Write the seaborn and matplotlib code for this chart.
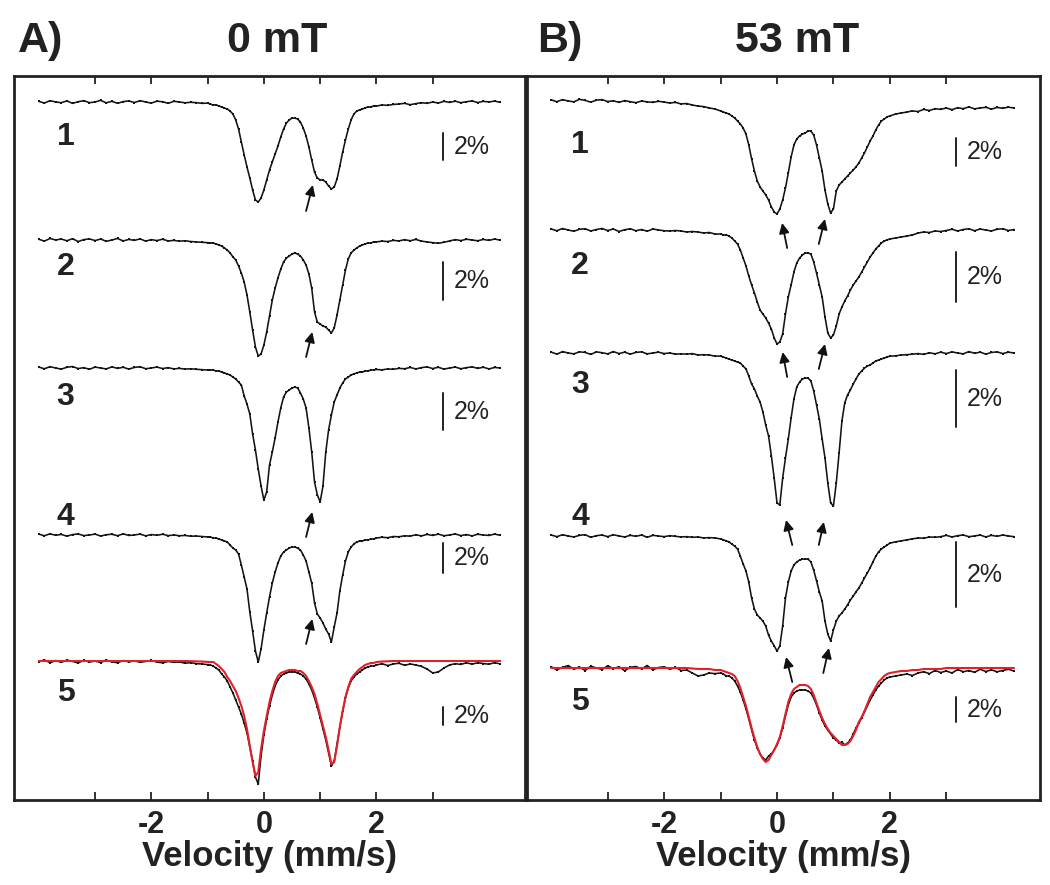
import numpy as np
import matplotlib
matplotlib.use('Agg')
import matplotlib.pyplot as plt
import seaborn as sns

# velocity channels (mm/s): 0.1 steps in the wings, 0.05 steps across the doublet
VELOCITY = np.concatenate([np.arange(-40, -9) / 10, np.arange(-19, 40) / 20, np.arange(20, 43) / 10])

# relative transmission change (%)
# ---------- A) 0 mT ----------
A1 = [0.05, -0.08, 0.1, 0.0, -0.05, 0.08, -0.1, 0.02, 0.1, -0.05,
      0.0, 0.12, -0.06, 0.05, -0.1, 0.03, 0.08, -0.04, 0.1, 0.0,
      -0.08, 0.06, 0.02, -0.1, 0.05, 0.0, -0.06, -0.02, -0.05, -0.1, -0.08,
      -0.15, -0.22, -0.2, -0.3, -0.37, -0.45, -0.52, -0.67, -0.89, -1.33,
      -2.0, -2.96, -3.93, -4.81, -5.63, -6.52, -7.26, -7.41, -7.11, -6.52,
      -5.78, -5.04, -4.44, -3.85, -3.26, -2.59, -2.0, -1.56, -1.33, -1.19,
      -1.19, -1.26, -1.48, -1.93, -2.52, -3.33, -4.3, -5.19, -5.63, -5.78,
      -5.78, -5.93, -6.22, -6.44, -6.3, -5.7, -4.74, -3.7, -2.81, -2.0,
      -1.33, -0.89, -0.67, -0.59, -0.52, -0.44, -0.37, -0.37, -0.3,
      -0.3, -0.22, -0.25, -0.18, -0.15, -0.1, -0.2, -0.12, -0.05, -0.1,
      0.0, -0.08, 0.05, -0.03, 0.06, -0.05, 0.02, 0.08, -0.04, 0.05, 0.0, 0.07, -0.03]
A2 = [0.04, -0.06, 0.08, 0.0, 0.05, -0.04, 0.07, -0.08, 0.02, 0.06,
      -0.03, 0.05, -0.07, 0.0, 0.08, -0.05, 0.03, -0.02, 0.06, -0.06,
      0.02, -0.03, 0.04, -0.05, -0.02, -0.06, -0.04, -0.08, -0.1, -0.12, -0.14,
      -0.16, -0.16, -0.21, -0.26, -0.32, -0.42, -0.53, -0.68, -0.89, -1.05,
      -1.37, -1.74, -2.21, -2.89, -3.79, -4.74, -5.63, -6.11, -6.0, -5.53,
      -4.84, -4.0, -3.16, -2.53, -2.0, -1.53, -1.16, -0.95, -0.84, -0.74,
      -0.68, -0.74, -0.84, -1.05, -1.32, -1.79, -2.53, -3.79, -4.32, -4.42,
      -4.53, -4.58, -4.74, -4.89, -4.63, -3.95, -3.16, -2.37, -1.58, -1.0,
      -0.68, -0.53, -0.42, -0.32, -0.26, -0.21, -0.16, -0.16, -0.1,
      -0.1, -0.06, -0.08, -0.02, -0.05, 0.02, -0.04, 0.03, -0.06, -0.1,
      -0.14, -0.17, -0.12, -0.05, 0.02, -0.03, 0.04, 0.0, -0.04, 0.03, -0.02, 0.05, -0.01]
A3 = [0.05, -0.04, 0.07, 0.0, -0.06, 0.04, 0.08, -0.03, 0.02, -0.07,
      0.05, 0.0, -0.05, 0.06, -0.02, 0.04, -0.06, 0.03, 0.07, -0.04,
      0.0, 0.05, -0.03, 0.02, -0.05, -0.02, -0.06, -0.04, -0.07, -0.09, -0.11,
      -0.11, -0.11, -0.16, -0.16, -0.22, -0.27, -0.32, -0.38, -0.49, -0.59,
      -0.76, -0.92, -1.51, -1.95, -2.49, -3.57, -4.43, -5.46, -6.38, -7.14,
      -6.7, -5.24, -4.54, -3.78, -2.92, -2.16, -1.57, -1.3, -1.19, -1.08,
      -1.03, -1.08, -1.35, -1.68, -2.16, -3.24, -4.54, -6.16, -6.86, -7.24,
      -6.38, -4.54, -3.35, -2.54, -1.84, -1.46, -1.08, -0.81, -0.59, -0.49,
      -0.38, -0.32, -0.27, -0.22, -0.22, -0.16, -0.16, -0.11, -0.11,
      -0.08, -0.1, -0.05, -0.07, -0.02, -0.04, 0.03, -0.05, 0.02, 0.06,
      -0.03, 0.04, -0.06, 0.0, 0.05, -0.04, 0.02, 0.06, -0.02, 0.04, -0.05, 0.03, 0.0]
A4 = [0.06, -0.05, 0.08, -0.02, 0.04, -0.08, 0.03, 0.07, -0.04, 0.0,
      0.06, -0.07, 0.02, 0.05, -0.05, 0.08, -0.03, 0.0, 0.06, -0.06,
      0.03, -0.02, 0.05, -0.04, 0.0, -0.05, -0.03, -0.08, -0.07, -0.1, -0.13,
      -0.13, -0.2, -0.2, -0.27, -0.33, -0.4, -0.47, -0.67, -0.87, -1.0,
      -1.27, -2.0, -2.8, -3.6, -5.13, -6.4, -7.73, -8.47, -7.6, -6.33,
      -5.2, -4.13, -3.2, -2.47, -1.87, -1.4, -1.13, -1.0, -0.87, -0.8,
      -0.8, -0.87, -1.0, -1.33, -1.73, -2.47, -3.2, -4.53, -5.27, -5.53,
      -5.87, -6.27, -6.6, -7.13, -6.13, -5.2, -3.73, -2.67, -1.73, -1.13,
      -0.8, -0.6, -0.47, -0.4, -0.4, -0.33, -0.33, -0.27, -0.27,
      -0.2, -0.15, -0.18, -0.1, -0.12, -0.05, -0.08, 0.02, -0.06, 0.04,
      -0.03, 0.06, -0.05, 0.0, 0.07, -0.04, 0.03, -0.06, 0.05, 0.0, -0.03, 0.06, -0.02]
A5 = [-0.1, 0.12, -0.2, 0.05, -0.15, 0.1, -0.05, -0.22, 0.08, -0.12,
      0.0, -0.18, 0.1, -0.08, -0.2, 0.05, -0.1, 0.02, -0.15, -0.05,
      0.06, -0.12, -0.2, -0.05, -0.15, -0.1, -0.25, -0.18, -0.3, -0.33, -0.4,
      -0.44, -0.56, -0.78, -1.0, -1.44, -1.78, -2.22, -2.89, -3.56, -4.33,
      -5.11, -5.89, -6.89, -8.0, -9.56, -11.11, -12.89, -13.67, -10.56, -8.22,
      -6.44, -5.0, -3.78, -2.78, -2.11, -1.67, -1.44, -1.33, -1.22, -1.22,
      -1.22, -1.33, -1.44, -1.67, -2.0, -2.56, -3.22, -4.11, -5.11, -6.33,
      -7.56, -8.78, -10.22, -11.67, -11.11, -9.22, -7.33, -5.56, -4.11, -3.0,
      -2.22, -1.78, -1.44, -1.22, -1.0, -0.78, -0.67, -0.56, -0.56,
      -0.44, -0.3, -0.5, -0.33, -0.25, -0.48, -0.33, -0.44, -0.6, -0.89,
      -1.33, -1.22, -0.78, -0.44, -0.3, -0.38, -0.2, -0.35, -0.2, -0.28, -0.36, -0.18, -0.33]
A5_FIT = [0.0, 0.0, 0.0, 0.0, 0.0, 0.0, 0.0, 0.0, 0.0, 0.0,
          0.0, 0.0, 0.0, 0.0, 0.0, 0.0, 0.0, 0.0, 0.0, 0.0,
          0.0, 0.0, 0.0, 0.0, 0.0, 0.0, 0.0, -0.02, -0.04, -0.06, -0.1,
          -0.11, -0.11, -0.33, -0.56, -0.89, -1.22, -1.78, -2.22, -2.78, -3.33,
          -4.11, -5.0, -6.11, -7.56, -9.44, -11.22, -12.78, -12.33, -9.78, -7.78,
          -6.11, -4.56, -3.33, -2.33, -1.67, -1.33, -1.22, -1.11, -1.0, -1.0,
          -1.0, -1.11, -1.11, -1.33, -1.67, -2.22, -2.89, -3.67, -4.78, -6.0,
          -7.22, -8.44, -9.89, -11.44, -11.22, -9.44, -7.33, -5.56, -4.0, -2.89,
          -2.0, -1.56, -1.22, -0.89, -0.67, -0.44, -0.33, -0.22, -0.22,
          -0.11, -0.06, -0.03, 0.0, 0.0, 0.0, 0.0, 0.0, 0.0, 0.0,
          0.0, 0.0, 0.0, 0.0, 0.0, 0.0, 0.0, 0.0, 0.0, 0.0, 0.0, 0.0, 0.0]

# ---------- B) 53 mT ----------
B1 = [0.08, -0.05, 0.1, 0.0, -0.06, 0.12, 0.04, -0.08, 0.06, 0.1,
      -0.04, 0.02, -0.1, 0.03, -0.05, -0.12, 0.0, -0.06, -0.1, -0.02,
      -0.08, -0.14, -0.1, -0.21, -0.18, -0.29, -0.36, -0.4, -0.5, -0.57, -0.71,
      -0.79, -0.86, -0.93, -1.07, -1.21, -1.43, -1.64, -1.93, -2.36, -3.14,
      -4.14, -5.0, -5.71, -6.14, -6.43, -6.71, -7.07, -7.57, -7.93, -8.07,
      -7.71, -7.07, -6.21, -5.14, -4.0, -3.14, -2.71, -2.5, -2.36, -2.29,
      -2.14, -2.14, -2.43, -3.14, -4.07, -5.0, -6.36, -7.36, -8.0, -7.71,
      -6.43, -6.0, -5.79, -5.57, -5.36, -5.14, -4.93, -4.71, -4.43, -4.07,
      -3.71, -3.29, -2.86, -2.5, -2.07, -1.71, -1.43, -1.29, -1.14,
      -1.07, -0.93, -0.86, -0.79, -0.71, -0.75, -0.6, -0.68, -0.55, -0.6,
      -0.5, -0.62, -0.48, -0.55, -0.42, -0.56, -0.5, -0.45, -0.58, -0.46, -0.52, -0.44, -0.5]
B2 = [0.04, -0.03, 0.06, 0.0, -0.05, 0.03, 0.05, -0.04, 0.02, 0.06,
      -0.02, 0.04, -0.06, 0.01, 0.05, -0.03, 0.02, -0.05, 0.04, 0.0,
      -0.03, -0.04, -0.02, -0.04, -0.08, -0.06, -0.08, -0.12, -0.1, -0.16, -0.16,
      -0.2, -0.2, -0.24, -0.32, -0.44, -0.56, -0.8, -1.12, -1.44, -1.84,
      -2.2, -2.52, -2.88, -3.2, -3.36, -3.52, -3.72, -3.96, -4.32, -4.56,
      -4.48, -4.16, -3.36, -2.68, -2.2, -1.68, -1.32, -1.12, -1.0, -0.92,
      -0.92, -0.96, -1.28, -1.72, -2.2, -2.68, -3.48, -4.12, -4.32, -4.2,
      -3.84, -3.36, -3.08, -2.84, -2.64, -2.4, -2.2, -2.04, -1.88, -1.68,
      -1.48, -1.28, -1.08, -0.92, -0.76, -0.64, -0.52, -0.44, -0.4,
      -0.36, -0.32, -0.28, -0.24, -0.2, -0.12, -0.08, -0.1, -0.04, -0.06,
      -0.02, 0.03, -0.04, 0.02, 0.05, -0.03, 0.04, 0.0, -0.04, 0.03, 0.05, -0.02, 0.02]
B3 = [0.03, -0.04, 0.05, 0.0, -0.03, 0.04, 0.02, -0.05, 0.04, 0.01,
      -0.03, 0.05, -0.02, 0.03, -0.04, 0.02, 0.04, -0.03, 0.0, 0.03,
      -0.02, 0.0, -0.04, -0.03, -0.04, -0.02, -0.07, -0.06, -0.07, -0.11, -0.11,
      -0.14, -0.18, -0.21, -0.25, -0.28, -0.32, -0.35, -0.46, -0.56, -0.81,
      -1.09, -1.26, -1.51, -1.72, -2.07, -2.53, -2.91, -3.61, -4.39, -5.26,
      -5.33, -4.39, -3.68, -3.02, -2.28, -1.61, -1.19, -1.02, -0.91, -0.88,
      -0.88, -0.98, -1.33, -1.82, -2.32, -3.02, -3.68, -4.56, -5.26, -5.37,
      -4.56, -3.51, -2.39, -1.75, -1.47, -1.3, -1.09, -0.91, -0.74, -0.63,
      -0.53, -0.46, -0.42, -0.35, -0.28, -0.25, -0.21, -0.18, -0.14,
      -0.11, -0.1, -0.07, -0.06, -0.04, -0.02, -0.05, 0.01, -0.03, 0.03,
      -0.02, 0.04, 0.0, -0.03, 0.05, -0.01, 0.03, -0.04, 0.02, 0.04, -0.02, 0.03, 0.0]
B4 = [0.03, -0.02, 0.04, 0.0, -0.03, 0.02, 0.04, -0.04, 0.01, 0.03,
      -0.02, 0.04, 0.0, -0.03, 0.02, -0.01, 0.03, -0.04, 0.02, 0.0,
      -0.02, 0.01, -0.01, -0.03, -0.02, -0.04, -0.03, -0.06, -0.05, -0.06, -0.09,
      -0.12, -0.15, -0.18, -0.25, -0.31, -0.4, -0.62, -0.86, -1.08, -1.42,
      -1.91, -2.25, -2.43, -2.52, -2.62, -2.77, -3.05, -3.23, -3.38, -3.54,
      -3.38, -2.77, -1.91, -1.42, -1.08, -0.89, -0.8, -0.74, -0.71, -0.71,
      -0.71, -0.8, -1.05, -1.38, -1.72, -2.0, -2.62, -3.02, -3.23, -2.89,
      -2.62, -2.46, -2.37, -2.25, -2.12, -1.97, -1.85, -1.72, -1.6, -1.45,
      -1.29, -1.14, -0.98, -0.8, -0.62, -0.49, -0.4, -0.34, -0.28,
      -0.22, -0.18, -0.15, -0.12, -0.09, -0.06, -0.07, -0.03, -0.04, -0.02,
      0.02, -0.03, 0.01, 0.03, -0.02, 0.0, 0.03, -0.03, 0.02, -0.01, 0.03, 0.0, -0.02]
B5 = [0.1, -0.15, 0.05, 0.2, -0.1, 0.08, -0.2, 0.15, 0.0, -0.12,
      0.18, -0.05, 0.1, -0.22, 0.06, 0.12, -0.08, 0.2, -0.15, 0.04,
      0.1, -0.1, 0.05, -0.2, -0.16, -0.4, -0.64, -0.56, -0.4, -0.45, -0.4,
      -0.48, -0.64, -0.64, -0.8, -1.04, -1.44, -1.92, -2.56, -3.28, -4.08,
      -4.96, -5.76, -6.4, -6.88, -7.2, -7.36, -7.04, -6.88, -6.56, -6.16,
      -5.6, -4.8, -3.84, -2.96, -2.32, -2.0, -1.84, -1.76, -1.76, -1.76,
      -1.84, -2.0, -2.4, -2.96, -3.6, -4.16, -4.64, -4.96, -5.28, -5.6,
      -5.76, -6.0, -5.92, -6.16, -6.0, -5.76, -5.28, -4.8, -4.4, -4.0,
      -3.52, -3.04, -2.56, -2.16, -1.76, -1.44, -1.2, -0.96, -0.8,
      -0.72, -0.64, -0.56, -0.48, -0.6, -0.4, -0.3, -0.45, -0.2, -0.36,
      -0.24, -0.4, -0.12, -0.3, -0.2, -0.35, -0.1, -0.28, -0.15, -0.3, -0.2, -0.1, -0.25]
B5_FIT = [0.0, 0.0, 0.0, 0.0, 0.0, 0.0, 0.0, 0.0, 0.0, 0.0,
          0.0, 0.0, 0.0, 0.0, 0.0, 0.0, 0.0, 0.0, 0.0, 0.0,
          0.0, 0.0, 0.0, 0.0, 0.0, -0.04, -0.08, -0.08, -0.08, -0.16, -0.16,
          -0.24, -0.32, -0.4, -0.48, -0.64, -1.04, -1.6, -2.32, -3.04, -3.92,
          -4.8, -5.6, -6.32, -6.88, -7.28, -7.52, -7.36, -6.96, -6.56, -6.08,
          -5.52, -4.64, -3.68, -2.72, -2.08, -1.68, -1.52, -1.36, -1.36, -1.36,
          -1.44, -1.68, -2.16, -2.8, -3.44, -4.0, -4.48, -4.88, -5.2, -5.44,
          -5.68, -5.92, -6.16, -6.16, -6.08, -5.84, -5.44, -4.96, -4.32, -3.92,
          -3.44, -2.88, -2.32, -1.92, -1.52, -1.12, -0.88, -0.64, -0.48,
          -0.4, -0.32, -0.24, -0.24, -0.16, -0.16, -0.08, -0.08, -0.08, -0.08,
          0.0, 0.0, 0.0, 0.0, 0.0, 0.0, 0.0, 0.0, 0.0, 0.0, 0.0, 0.0, 0.0]

SPECTRUM_LABELS = ['1', '2', '3', '4', '5']
TICKS = [-3, -2, -1, 0, 1, 2, 3]
TICK_LABELS = ['', '-2', '', '0', '', '2', '']

for s in [A1, A2, A3, A4, A5, A5_FIT, B1, B2, B3, B4, B5, B5_FIT]:
    assert len(s) == len(VELOCITY)

# layout: y axis runs in figure-pixel rows (inverted), each trace = baseline row - % * px per %
PANELS = {
    'A': dict(spectra=[A1, A2, A3, A4, A5], fit=A5_FIT,
              base=[102, 240, 368, 535, 661], scale=[13.5, 19, 18.5, 15, 9],
              bar_top=[133, 262, 393, 543, 707], bar_x=3.18, text_x=3.38,
              label_x=-3.68, label_y=[137, 267, 397, 517, 693],
              arrows=[(0.75, 211, 0.87, 185), (0.75, 357, 0.86, 332),
                      (0.75, 537, 0.86, 512), (0.75, 644, 0.86, 619)],
              xlim=(-4.44, 4.64), rect=[14, 525], letter='A)', title='0 mT',
              letter_x=18, title_x=277),
    'B': dict(spectra=[B1, B2, B3, B4, B5], fit=B5_FIT,
              base=[101, 230, 353, 536, 668], scale=[14, 25, 28.5, 32.5, 12.5],
              bar_top=[138, 252, 370, 542, 697], bar_x=3.17, text_x=3.36,
              label_x=-3.65, label_y=[145, 266, 385, 517, 702],
              arrows=[(0.18, 248, 0.09, 223), (0.74, 244, 0.85, 219),
                      (0.18, 377, 0.1, 352), (0.74, 369, 0.85, 344),
                      (0.27, 545, 0.16, 520), (0.74, 545, 0.83, 522),
                      (0.27, 682, 0.16, 657), (0.82, 673, 0.92, 648)],
              xlim=(-4.43, 4.66), rect=[527, 1040], letter='B)', title='53 mT',
              letter_x=537, title_x=797),
}

sns.set_style('white')
plt.rcParams['font.family'] = ['Liberation Sans', 'DejaVu Sans']

W, H = 1050, 885
TOP, BOTTOM = 76, 800
fig = plt.figure(figsize=(W / 100, H / 100), dpi=100)

for key, p in PANELS.items():
    x0, x1 = p['rect']
    ax = fig.add_axes([x0 / W, 1 - BOTTOM / H, (x1 - x0) / W, (BOTTOM - TOP) / H])

    for i, spec in enumerate(p['spectra']):
        y = p['base'][i] - np.asarray(spec) * p['scale'][i]
        sns.lineplot(x=VELOCITY, y=y, ax=ax, color='#141414', lw=1.15,
                     estimator=None, sort=False, marker='s', markersize=1.8,
                     markeredgewidth=0)
        # 2% scale bar
        top = p['bar_top'][i]
        ax.plot([p['bar_x'], p['bar_x']], [top, top + 2 * p['scale'][i]],
                color='#222222', lw=1.4)
        ax.text(p['text_x'], top + p['scale'][i], '2%', fontsize=18,
                va='center', ha='left', color='#222222')
        ax.text(p['label_x'], p['label_y'][i], SPECTRUM_LABELS[i], fontsize=23,
                fontweight='bold', va='center', ha='left', color='#222222')

    yfit = p['base'][-1] - np.asarray(p['fit']) * p['scale'][-1]
    sns.lineplot(x=VELOCITY, y=yfit, ax=ax, color='#e3202a', lw=1.5,
                 estimator=None, sort=False)

    for tx, ty, hx, hy in p['arrows']:
        ax.annotate('', xy=(hx, hy), xytext=(tx, ty),
                    arrowprops=dict(arrowstyle='-|>', color='#111111', lw=1.3,
                                    mutation_scale=15, shrinkA=0, shrinkB=0))

    ax.set_xlim(*p['xlim'])
    ax.set_ylim(BOTTOM, TOP)
    ax.set_yticks([])
    ax.set_xticks(TICKS)
    ax.set_xticklabels(TICK_LABELS, fontsize=22, fontweight='bold')
    ax.tick_params(axis='x', direction='in', top=True, bottom=True,
                   length=6, width=1.3, pad=7, colors='#222222')
    ax.set_xlabel('Velocity (mm/s)', fontsize=25, fontweight='bold', labelpad=0,
                  color='#222222')
    ax.set_ylabel('')
    for sp in ax.spines.values():
        sp.set_linewidth(2.0)
        sp.set_color('#222222')

    fig.text(p['letter_x'] / W, 1 - 41 / H, p['letter'], fontsize=31,
             fontweight='bold', ha='left', va='center', color='#222222')
    fig.text(p['title_x'] / W, 1 - 41 / H, p['title'], fontsize=31,
             fontweight='bold', ha='center', va='center', color='#222222')

fig.savefig('out.png', dpi=100)
